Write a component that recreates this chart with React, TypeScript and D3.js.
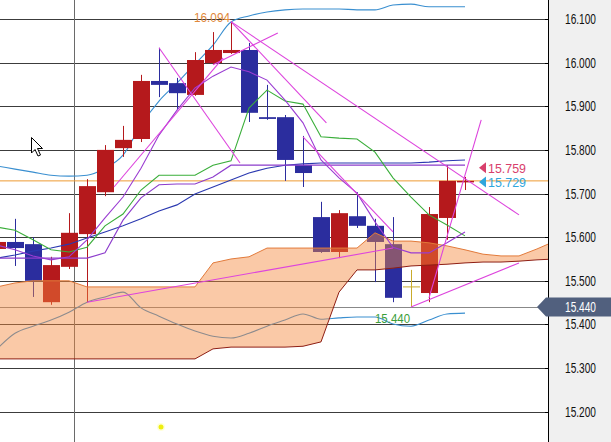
import React from "react";
import * as d3 from "d3";

const W = 611;
const H = 442;
const PLOT_R = 548;

const priceTicks = [16.1, 16.0, 15.9, 15.8, 15.7, 15.6, 15.5, 15.4, 15.3, 15.2];

// OHLC per bar
const opens = [15.573, 15.589, 15.584, 15.451, 15.532, 15.607, 15.703, 15.804, 15.825, 15.958, 15.953, 15.926, 15.999, 16.022, 16.029, 15.875, 15.875, 15.765, 15.646, 15.566, 15.648, 15.626, 15.584, 15.486, 15.472, 15.644, 15.726];
const highs = [15.594, 15.642, 15.600, 15.555, 15.655, 15.733, 15.811, 15.855, 15.972, 16.034, 15.965, 16.024, 16.070, 16.094, 16.045, 15.949, 15.880, 15.832, 15.681, 15.662, 15.703, 15.642, 15.646, 15.525, 15.669, 15.765, 15.738];
const lows = [15.571, 15.534, 15.463, 15.445, 15.527, 15.451, 15.694, 15.784, 15.818, 15.921, 15.891, 15.924, 15.997, 16.020, 15.864, 15.869, 15.729, 15.715, 15.564, 15.552, 15.621, 15.497, 15.451, 15.440, 15.451, 15.594, 15.708];
const closes = [15.589, 15.575, 15.500, 15.536, 15.610, 15.717, 15.800, 15.823, 15.958, 15.949, 15.930, 16.006, 16.029, 16.029, 15.885, 15.871, 15.777, 15.747, 15.566, 15.655, 15.626, 15.589, 15.461, 15.486, 15.653, 15.729, 15.729];

// Ichimoku cloud (shifted forward, 32 points)
const spanA = [15.486, 15.495, 15.500, 15.500, 15.500, 15.486, 15.486, 15.486, 15.486, 15.486, 15.486, 15.486, 15.541, 15.550, 15.555, 15.575, 15.575, 15.575, 15.575, 15.575, 15.575, 15.610, 15.591, 15.591, 15.587, 15.580, 15.571, 15.561, 15.557, 15.557, 15.573, 15.591];
const spanB = [15.321, 15.321, 15.321, 15.321, 15.321, 15.321, 15.321, 15.321, 15.321, 15.321, 15.321, 15.321, 15.344, 15.348, 15.348, 15.348, 15.348, 15.350, 15.360, 15.474, 15.525, 15.525, 15.529, 15.534, 15.536, 15.538, 15.541, 15.543, 15.543, 15.545, 15.548, 15.550];

// Bollinger bands
const bbUpper = [15.763, 15.756, 15.749, 15.742, 15.740, 15.742, 15.758, 15.788, 15.857, 15.912, 15.953, 15.997, 16.040, 16.093, 16.107, 16.116, 16.121, 16.123, 16.123, 16.123, 16.121, 16.121, 16.132, 16.134, 16.128, 16.128, 16.128];
const bbLower = [15.344, 15.380, 15.396, 15.410, 15.428, 15.451, 15.463, 15.474, 15.438, 15.419, 15.401, 15.385, 15.373, 15.369, 15.380, 15.396, 15.410, 15.424, 15.412, 15.415, 15.417, 15.417, 15.401, 15.396, 15.410, 15.424, 15.426];

// Lines
const tenkan = [15.623, 15.616, 15.594, 15.571, 15.566, 15.577, 15.626, 15.653, 15.708, 15.742, 15.742, 15.742, 15.765, 15.775, 15.896, 15.937, 15.912, 15.905, 15.830, 15.827, 15.825, 15.795, 15.736, 15.692, 15.651, 15.628, 15.603];
const kijun = [15.552, 15.552, 15.552, 15.552, 15.552, 15.552, 15.564, 15.639, 15.690, 15.720, 15.722, 15.722, 15.738, 15.765, 15.765, 15.765, 15.765, 15.765, 15.765, 15.765, 15.765, 15.765, 15.765, 15.765, 15.765, 15.765, 15.765];
const maSlow = [15.552, 15.559, 15.568, 15.575, 15.584, 15.598, 15.612, 15.626, 15.642, 15.660, 15.674, 15.699, 15.715, 15.731, 15.747, 15.758, 15.765, 15.768, 15.770, 15.770, 15.770, 15.770, 15.770, 15.770, 15.772, 15.775, 15.777];
const maFast = [15.582, 15.571, 15.557, 15.548, 15.555, 15.594, 15.644, 15.692, 15.758, 15.834, 15.891, 15.942, 15.969, 15.990, 15.979, 15.960, 15.914, 15.862, 15.777, 15.736, 15.701, 15.635, 15.577, 15.564, 15.564, 15.587, 15.612];

// Trend lines: [barFrom, priceFrom, barTo, priceTo]
const trendLines: number[][] = [
  [5, 15.451, 22, 15.575],
  [9, 16.034, 13.5, 15.770],
  [13, 16.094, 29, 15.651],
  [13, 16.094, 18.3, 15.862],
  [17, 15.830, 22, 15.612],
  [6.5, 15.715, 12.56, 16.011],
  [12, 15.995, 15.6, 16.068],
  [23, 15.440, 29, 15.541],
  [24, 15.461, 26.9, 15.869],
];

const highMark = { bar: 13, price: 16.094, text: "16.094" };
const lowMark = { bar: 23, price: 15.440, text: "15.440" };
const kijunLabel = { price: 15.759, text: "15.759" };
const lastLabel = { price: 15.729, text: "15.729" };

const AX_FONT = "'Liberation Sans', Arial, sans-serif";

export default function App() {
  const y = d3.scaleLinear().domain([15.2, 16.1]).range([411.7, 19]);
  const x = d3.scaleLinear().domain([0, 1]).range([-3, 15]);

  const lineGen = (arr: number[], curve = d3.curveLinear) =>
    d3
      .line<number>()
      .x((_, i) => x(i))
      .y((d) => y(d))
      .curve(curve)(arr) as string;

  const cloudArea = d3
    .area<number>()
    .x((_, i) => x(i))
    .y0((_, i) => y(spanB[i]))
    .y1((d) => y(d))(spanA) as string;

  const red = "#b5191c";
  const blue = "#2b2d9e";
  const doji = "#c9ab2c";
  const lastY = y(lastLabel.price);

  return (
    <svg
      width={W}
      height={H}
      style={{ position: "fixed", left: 0, top: 0, background: "#fff" }}
    >
      <defs>
        <clipPath id="plot">
          <rect x={0} y={0} width={PLOT_R} height={H} />
        </clipPath>
      </defs>
      <rect x={0} y={0} width={W} height={H} fill="#fff" />
      <g clipPath="url(#plot)">
        {priceTicks.map((p) => (
          <line
            key={p}
            x1={0}
            x2={PLOT_R}
            y1={Math.round(y(p)) + 0.5}
            y2={Math.round(y(p)) + 0.5}
            stroke="#3c3c3c"
            strokeWidth={1}
          />
        ))}
        <line
          x1={0}
          x2={538}
          y1={Math.round(y(lowMark.price)) + 0.5}
          y2={Math.round(y(lowMark.price)) + 0.5}
          stroke="#888"
          strokeWidth={1}
        />
        <line x1={74.5} x2={74.5} y1={0} y2={H} stroke="#6a6a6a" strokeWidth={1} />

        {/* current price line */}
        <line x1={0} x2={PLOT_R} y1={lastY} y2={lastY} stroke="#ee9a32" strokeWidth={1} />

        {/* Bollinger */}
        <path d={lineGen(bbUpper, d3.curveMonotoneX)} fill="none" stroke="#3a8fd0" strokeWidth={1.1} />
        <path d={lineGen(bbLower, d3.curveMonotoneX)} fill="none" stroke="#3a8fd0" strokeWidth={1.1} />

        {/* candles */}
        {opens.map((o, i) => {
          const c = closes[i];
          const cx = Math.round(x(i));
          const col = c > o ? red : c < o ? blue : doji;
          const top = y(Math.max(o, c));
          const bot = y(Math.min(o, c));
          return (
            <g key={i}>
              <line x1={cx + 0.5} x2={cx + 0.5} y1={y(highs[i])} y2={y(lows[i])} stroke={col} strokeWidth={1} />
              {c === o ? (
                <line x1={cx - 8} x2={cx + 9} y1={top} y2={top} stroke={col} strokeWidth={1} />
              ) : (
                <rect x={cx - 8} y={top} width={17} height={Math.max(1.5, bot - top)} fill={col} />
              )}
            </g>
          );
        })}

        {/* cloud */}
        <path d={cloudArea} fill="#f5883c" fillOpacity={0.45} stroke="none" />
        <path d={lineGen(spanA)} fill="none" stroke="#e27a3a" strokeWidth={1} />
        <path d={lineGen(spanB)} fill="none" stroke="#8e1e14" strokeWidth={1} />

        {/* MAs */}
        <path d={lineGen(maSlow)} fill="none" stroke="#2a38b0" strokeWidth={1.1} />
        <path d={lineGen(kijun)} fill="none" stroke="#8c3ccc" strokeWidth={1.1} />
        <path d={lineGen(tenkan)} fill="none" stroke="#3aae3a" strokeWidth={1.1} />
        <path d={lineGen(maFast)} fill="none" stroke="#9a3cd2" strokeWidth={1.1} />

        {/* trend lines */}
        {trendLines.map((t, k) => (
          <line
            key={k}
            x1={x(t[0])}
            y1={y(t[1])}
            x2={x(t[2])}
            y2={y(t[3])}
            stroke="#dd44dd"
            strokeWidth={1.1}
          />
        ))}

        {/* high / low labels */}
        <text
          x={x(highMark.bar) - 1}
          y={y(highMark.price) + 0.5}
          textAnchor="end"
          fontFamily={AX_FONT}
          fontSize={12.5}
          fill="#e0883a"
          textLength={36}
          lengthAdjust="spacingAndGlyphs"
        >
          {highMark.text}
        </text>
        <text
          x={x(lowMark.bar) - 1}
          y={y(lowMark.price) + 16}
          textAnchor="end"
          fontFamily={AX_FONT}
          fontSize={12.5}
          fill="#3a9e3a"
          textLength={35}
          lengthAdjust="spacingAndGlyphs"
        >
          {lowMark.text}
        </text>

        {/* right-side value labels */}
        {[
          { l: kijunLabel, col: "#d8406c" },
          { l: lastLabel, col: "#2fa6dc" },
        ].map(({ l, col }, k) => {
          const cy = y(l.price) + (k === 0 ? 0 : 1);
          return (
            <g key={k}>
              <path d={`M479,${cy} L486,${cy - 5.5} L486,${cy + 5.5} Z`} fill={col} />
              <text
                x={488}
                y={cy + 5}
                fontFamily={AX_FONT}
                fontSize={13}
                fill={col}
                textLength={38}
                lengthAdjust="spacingAndGlyphs"
              >
                {l.text}
              </text>
            </g>
          );
        })}

        {/* mouse cursor */}
        <path
          d="M31.5,137.5 L31.5,153 L35,149.5 L38,156 L40.5,155 L37.5,148.5 L42.5,148.5 Z"
          fill="#fff"
          stroke="#000"
          strokeWidth={1}
        />
        <circle cx={161} cy={427} r={4} fill="#ffffc0" opacity={0.6} />
        <circle cx={161} cy={427} r={2.5} fill="#eeee10" />
      </g>

      {/* price axis */}
      <rect x={549} y={0} width={W - 549} height={H} fill="#f0f0f0" />
      <line x1={548.5} x2={548.5} y1={0} y2={H} stroke="#000" strokeWidth={1} />
      {priceTicks.map((p) => (
        <g key={p}>
          <line x1={545} x2={548} y1={Math.round(y(p)) + 0.5} y2={Math.round(y(p)) + 0.5} stroke="#000" />
          <text
            x={565}
            y={y(p) + 5}
            fontFamily={AX_FONT}
            fontSize={14}
            fill="#111"
            textLength={31}
            lengthAdjust="spacingAndGlyphs"
          >
            {p.toFixed(3)}
          </text>
        </g>
      ))}
      {(() => {
        const cy = y(lowMark.price);
        return (
          <g>
            <path
              d={`M537,${cy} L546,${cy - 9.5} L611,${cy - 9.5} L611,${cy + 9.5} L546,${cy + 9.5} Z`}
              fill="#51607e"
            />
            <text
              x={565}
              y={cy + 5}
              fontFamily={AX_FONT}
              fontSize={14}
              fill="#fff"
              textLength={31}
              lengthAdjust="spacingAndGlyphs"
            >
              {lowMark.price.toFixed(3)}
            </text>
          </g>
        );
      })()}
    </svg>
  );
}
